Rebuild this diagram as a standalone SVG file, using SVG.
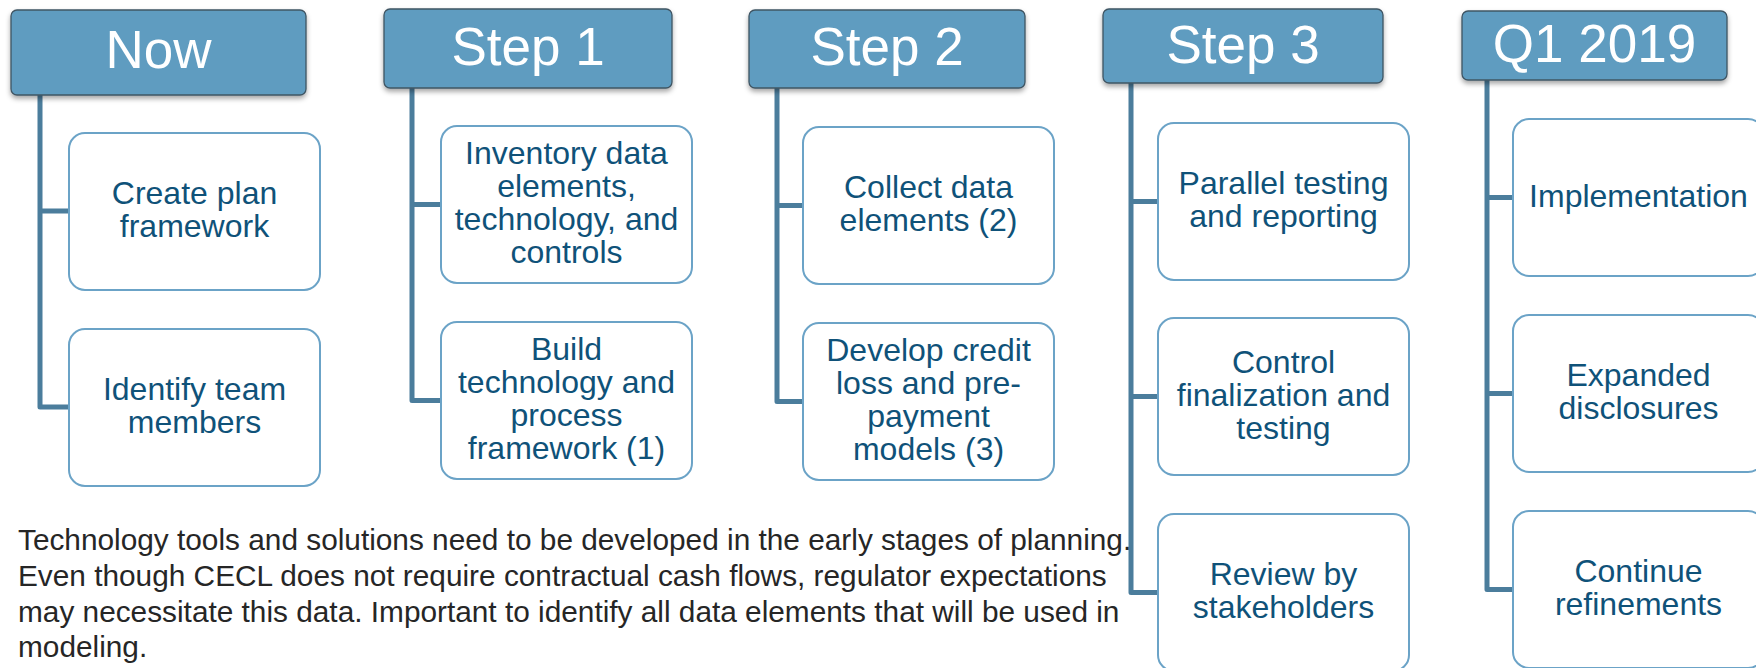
<svg xmlns="http://www.w3.org/2000/svg" width="1756" height="668" viewBox="0 0 1756 668">
  <defs>
    <filter id="hdrShadow" x="-10%" y="-20%" width="120%" height="160%">
      <feDropShadow dx="0" dy="3" stdDeviation="2.5" flood-color="#000" flood-opacity="0.35"/>
    </filter>
    <style>
      .hdr { fill: #5f9cc0; stroke: #3f5563; stroke-width: 1.3; filter: url(#hdrShadow); }
      .hdr-t { font-family: "Liberation Sans", Arial, sans-serif; font-size: 53px; fill: #ffffff; text-anchor: middle; }
      .box { fill: #ffffff; stroke: #6ba3c7; stroke-width: 2; }
      .box-t { font-family: "Liberation Sans", Arial, sans-serif; font-size: 32px; fill: #0f5279; text-anchor: middle; }
      .conn { fill: none; stroke: #4b7d9c; stroke-width: 5; stroke-linejoin: round; }
      .note { font-family: "Liberation Sans", Arial, sans-serif; font-size: 29.8px; fill: #262626; }
    </style>
  </defs>

  <!-- trunk lines and branches -->
  <g id="connectors">
    <path class="conn" d="M40 95 V407 H69 M40 211 H69"/>
    <path class="conn" d="M412 88 V400.5 H441 M412 204.5 H441"/>
    <path class="conn" d="M777 88 V401.5 H803 M777 205.5 H803"/>
    <path class="conn" d="M1131 83 V592.5 H1158 M1131 201.5 H1158 M1131 396.5 H1158"/>
    <path class="conn" d="M1487 80 V589.5 H1513 M1487 197.5 H1513 M1487 393.5 H1513"/>
  </g>

  <!-- column headers -->
  <g id="hdr-now">
    <rect class="hdr" x="11" y="10" width="295" height="85" rx="6"/>
    <text class="hdr-t" x="158.5" y="68">Now</text>
  </g>
  <g id="hdr-step1">
    <rect class="hdr" x="384" y="9" width="288" height="79" rx="6"/>
    <text class="hdr-t" x="528" y="65">Step 1</text>
  </g>
  <g id="hdr-step2">
    <rect class="hdr" x="749" y="10" width="276" height="78" rx="6"/>
    <text class="hdr-t" x="887" y="65">Step 2</text>
  </g>
  <g id="hdr-step3">
    <rect class="hdr" x="1103" y="9" width="280" height="74" rx="6"/>
    <text class="hdr-t" x="1243" y="63">Step 3</text>
  </g>
  <g id="hdr-q1">
    <rect class="hdr" x="1462" y="11" width="265" height="69" rx="6"/>
    <text class="hdr-t" x="1594.5" y="62">Q1 2019</text>
  </g>

  <!-- Now -->
  <g id="now-1">
    <rect class="box" x="69" y="133" width="251" height="157" rx="16"/>
    <text class="box-t" x="194.5" y="204">Create plan<tspan x="194.5" dy="33">framework</tspan></text>
  </g>
  <g id="now-2">
    <rect class="box" x="69" y="329" width="251" height="157" rx="16"/>
    <text class="box-t" x="194.5" y="400">Identify team<tspan x="194.5" dy="33">members</tspan></text>
  </g>

  <!-- Step 1 -->
  <g id="step1-1">
    <rect class="box" x="441" y="126" width="251" height="157" rx="16"/>
    <text class="box-t" x="566.5" y="164">Inventory data<tspan x="566.5" dy="33">elements,</tspan><tspan x="566.5" dy="33">technology, and</tspan><tspan x="566.5" dy="33">controls</tspan></text>
  </g>
  <g id="step1-2">
    <rect class="box" x="441" y="322" width="251" height="157" rx="16"/>
    <text class="box-t" x="566.5" y="360">Build<tspan x="566.5" dy="33">technology and</tspan><tspan x="566.5" dy="33">process</tspan><tspan x="566.5" dy="33">framework (1)</tspan></text>
  </g>

  <!-- Step 2 -->
  <g id="step2-1">
    <rect class="box" x="803" y="127" width="251" height="157" rx="16"/>
    <text class="box-t" x="928.5" y="198">Collect data<tspan x="928.5" dy="33">elements (2)</tspan></text>
  </g>
  <g id="step2-2">
    <rect class="box" x="803" y="323" width="251" height="157" rx="16"/>
    <text class="box-t" x="928.5" y="361">Develop credit<tspan x="928.5" dy="33">loss and pre-</tspan><tspan x="928.5" dy="33">payment</tspan><tspan x="928.5" dy="33">models (3)</tspan></text>
  </g>

  <!-- Step 3 -->
  <g id="step3-1">
    <rect class="box" x="1158" y="123" width="251" height="157" rx="16"/>
    <text class="box-t" x="1283.5" y="194">Parallel testing<tspan x="1283.5" dy="33">and reporting</tspan></text>
  </g>
  <g id="step3-2">
    <rect class="box" x="1158" y="318" width="251" height="157" rx="16"/>
    <text class="box-t" x="1283.5" y="372.5">Control<tspan x="1283.5" dy="33">finalization and</tspan><tspan x="1283.5" dy="33">testing</tspan></text>
  </g>
  <g id="step3-3">
    <rect class="box" x="1158" y="514" width="251" height="157" rx="16"/>
    <text class="box-t" x="1283.5" y="585">Review by<tspan x="1283.5" dy="33">stakeholders</tspan></text>
  </g>

  <!-- Q1 2019 -->
  <g id="q1-1">
    <rect class="box" x="1513" y="119" width="251" height="157" rx="16"/>
    <text class="box-t" x="1638.5" y="207">Implementation</text>
  </g>
  <g id="q1-2">
    <rect class="box" x="1513" y="315" width="251" height="157" rx="16"/>
    <text class="box-t" x="1638.5" y="386">Expanded<tspan x="1638.5" dy="33">disclosures</tspan></text>
  </g>
  <g id="q1-3">
    <rect class="box" x="1513" y="511" width="251" height="157" rx="16"/>
    <text class="box-t" x="1638.5" y="582">Continue<tspan x="1638.5" dy="33">refinements</tspan></text>
  </g>

  <!-- footnote -->
  <g id="note">
    <text class="note" x="18" y="550">Technology tools and solutions need to be developed in the early stages of planning.<tspan x="18" dy="35.8">Even though CECL does not require contractual cash flows, regulator expectations</tspan><tspan x="18" dy="35.8">may necessitate this data. Important to identify all data elements that will be used in</tspan><tspan x="18" dy="35.8">modeling.</tspan></text>
  </g>
</svg>
